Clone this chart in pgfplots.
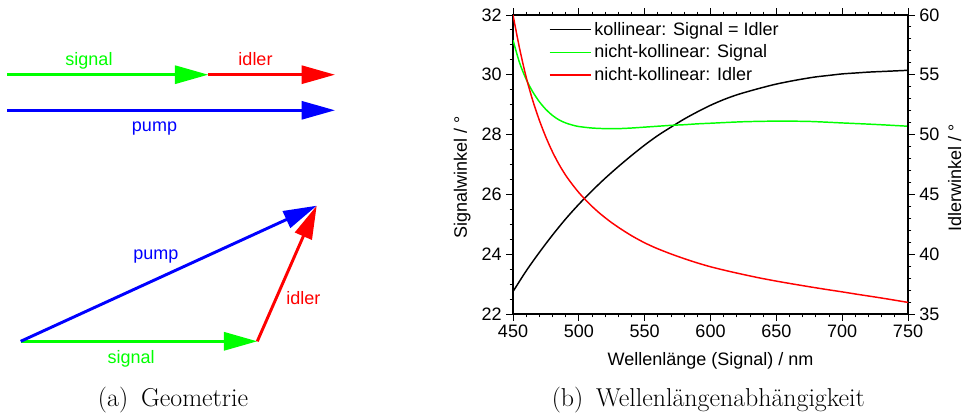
\documentclass[border=0pt]{standalone}
\usepackage{fontspec}
\usepackage{pgfplots}
\pgfplotsset{compat=1.18}
\usetikzlibrary{arrows.meta}
\newfontfamily\arial{Liberation Sans}
\definecolor{cgreen}{RGB}{0,255,0}
\definecolor{cred}{RGB}{255,0,0}
\definecolor{cblue}{RGB}{0,0,255}
\newcommand{\sansf}{\arial\fontsize{13.5}{16}\selectfont}
\newcommand{\capf}{\fontsize{19.4}{23}\selectfont}

\pgfplotstableread{
x y
450 22.75
460 23.44
470 24.06
480 24.64
490 25.18
500 25.67
510 26.12
520 26.54
530 26.93
540 27.30
550 27.65
560 27.97
570 28.25
580 28.52
590 28.76
600 28.98
610 29.17
620 29.33
630 29.46
640 29.58
650 29.69
660 29.78
670 29.86
680 29.93
690 29.98
700 30.03
710 30.06
720 30.09
730 30.11
740 30.13
750 30.15
}\collinear

\pgfplotstableread{
x y
450 31.16
455 30.40
460 29.85
465 29.43
470 29.10
475 28.84
480 28.64
485 28.49
490 28.39
495 28.32
500 28.27
510 28.22
520 28.20
530 28.20
540 28.22
550 28.25
560 28.28
570 28.31
580 28.33
590 28.36
600 28.38
625 28.43
650 28.45
675 28.44
700 28.39
725 28.34
750 28.28
}\signal

\pgfplotstableread{
x y
450 60.0
455 57.2
460 54.8
465 52.85
470 51.2
475 49.78
480 48.55
485 47.5
490 46.6
495 45.84
500 45.15
505 44.55
510 44.0
515 43.5
520 43.05
525 42.63
530 42.25
535 41.89
540 41.55
545 41.24
550 40.95
555 40.69
560 40.45
570 40.02
580 39.63
590 39.27
600 38.95
612.5 38.61
625 38.3
637.5 38.01
650 37.75
662.5 37.51
675 37.28
687.5 37.06
700 36.85
712.5 36.63
725 36.42
737.5 36.2
750 35.97
}\idler

\begin{document}
\begin{tikzpicture}
\path[use as bounding box] (0pt,0pt) rectangle (726.75pt,310.5pt);

% ---------- (a) geometry ----------
\begin{axis}[at={(0pt,0pt)}, anchor=south west, scale only axis,
  width=330pt, height=310.5pt, xmin=0, xmax=440, ymin=0, ymax=414,
  y dir=reverse, hide axis, clip=false]
\addplot[cgreen, line width=2.2pt, -{Triangle[length=25pt,width=13.5pt]}] coordinates {(7.3,74.7) (208.3,74.7)};
\addplot[cred, line width=2.2pt, -{Triangle[length=25pt,width=13.5pt]}] coordinates {(208.3,74.7) (335,74.7)};
\addplot[cblue, line width=2.2pt, -{Triangle[length=25pt,width=13.5pt]}] coordinates {(7.3,110.3) (335,110.3)};
\addplot[cgreen, line width=2.2pt, -{Triangle[length=25pt,width=13.5pt]}] coordinates {(20.7,341.3) (257.3,341.3)};
\addplot[cblue, line width=2.2pt, -{Triangle[length=25pt,width=13.5pt]}] coordinates {(20.7,341.3) (316.7,205.7)};
\addplot[cred, line width=2.2pt, -{Triangle[length=25pt,width=13.5pt]}] coordinates {(257.3,341.3) (316.7,205.7)};
\node[font=\sansf, text=cgreen, anchor=base] at (axis cs:89,65.7) {signal};
\node[font=\sansf, text=cred, anchor=base] at (axis cs:255.5,65.7) {idler};
\node[font=\sansf, text=cblue, anchor=base] at (axis cs:154.5,131) {pump};
\node[font=\sansf, text=cblue, anchor=base] at (axis cs:155.8,259.3) {pump};
\node[font=\sansf, text=cred, anchor=base] at (axis cs:303.3,304) {idler};
\node[font=\sansf, text=cgreen, anchor=base] at (axis cs:131.2,363.3) {signal};
\node[font=\capf, anchor=base] at (axis cs:173,406) {(a)\hspace{0.5em}Geometrie};
\node[font=\capf, anchor=base] at (axis cs:708.3,406) {(b)\hspace{0.5em}Wellenlängenabhängigkeit};
\end{axis}

% ---------- (b) left axis ----------
\begin{axis}[at={(384.75pt,75pt)}, anchor=south west, scale only axis,
  width=296.25pt, height=224.25pt,
  xmin=450, xmax=750, ymin=22, ymax=32,
  xtick={450,500,...,750}, ytick={22,24,...,32},
  minor x tick num=4, minor y tick num=3,
  xtick pos=both, ytick pos=left, tick align=outside,
  major tick length=5pt, minor tick length=2.6pt,
  tick style={black, line width=0.7pt},
  axis line style={line width=0.8pt},
  /pgf/number format/assume math mode=true,
  ticklabel style={font=\sansf},
  xlabel={Wellenlänge (Signal) / nm}, ylabel={Signalwinkel / °},
  every axis x label/.style={at={(axis description cs:0.5,0)}, yshift=-35pt, anchor=center, font=\sansf},
  every axis y label/.style={at={(axis description cs:0,0.5)}, xshift=-38pt, yshift=-9.5pt, rotate=90, anchor=center, font=\sansf},
  clip=true]
\addplot[black, line width=1.1pt, smooth] table[x=x,y=y] {\collinear};
\addplot[cgreen, line width=1.1pt, smooth] table[x=x,y=y] {\signal};
\end{axis}

% ---------- (b) right axis ----------
\begin{axis}[at={(384.75pt,75pt)}, anchor=south west, scale only axis,
  width=296.25pt, height=224.25pt,
  xmin=450, xmax=750, ymin=35, ymax=60,
  hide x axis, axis y line*=right,
  ytick={35,40,...,60}, minor y tick num=4,
  ytick pos=right, yticklabel pos=right, tick align=outside,
  major tick length=5pt, minor tick length=2.6pt,
  tick style={black, line width=0.7pt},
  axis line style={line width=0.8pt},
  /pgf/number format/assume math mode=true,
  ticklabel style={font=\sansf},
  ylabel={Idlerwinkel / °},
  every axis y label/.style={at={(axis description cs:1,0.5)}, xshift=35pt, yshift=-10pt, rotate=90, anchor=center, font=\sansf},
  legend style={at={(rel axis cs:0.08,0.995)}, anchor=north west, draw=none, fill=none, font=\sansf, row sep=1.8pt},
  legend cell align=left,
  legend image code/.code={\draw[#1] (0pt,0pt) -- (31pt,0pt);}]
\addlegendimage{black, line width=1.1pt}
\addlegendentry{kollinear: Signal = Idler}
\addlegendimage{cgreen, line width=1.1pt}
\addlegendentry{nicht-kollinear: Signal}
\addplot[cred, line width=1.1pt, smooth] table[x=x,y=y] {\idler};
\addlegendentry{nicht-kollinear: Idler}
\end{axis}
\end{tikzpicture}
\end{document}
